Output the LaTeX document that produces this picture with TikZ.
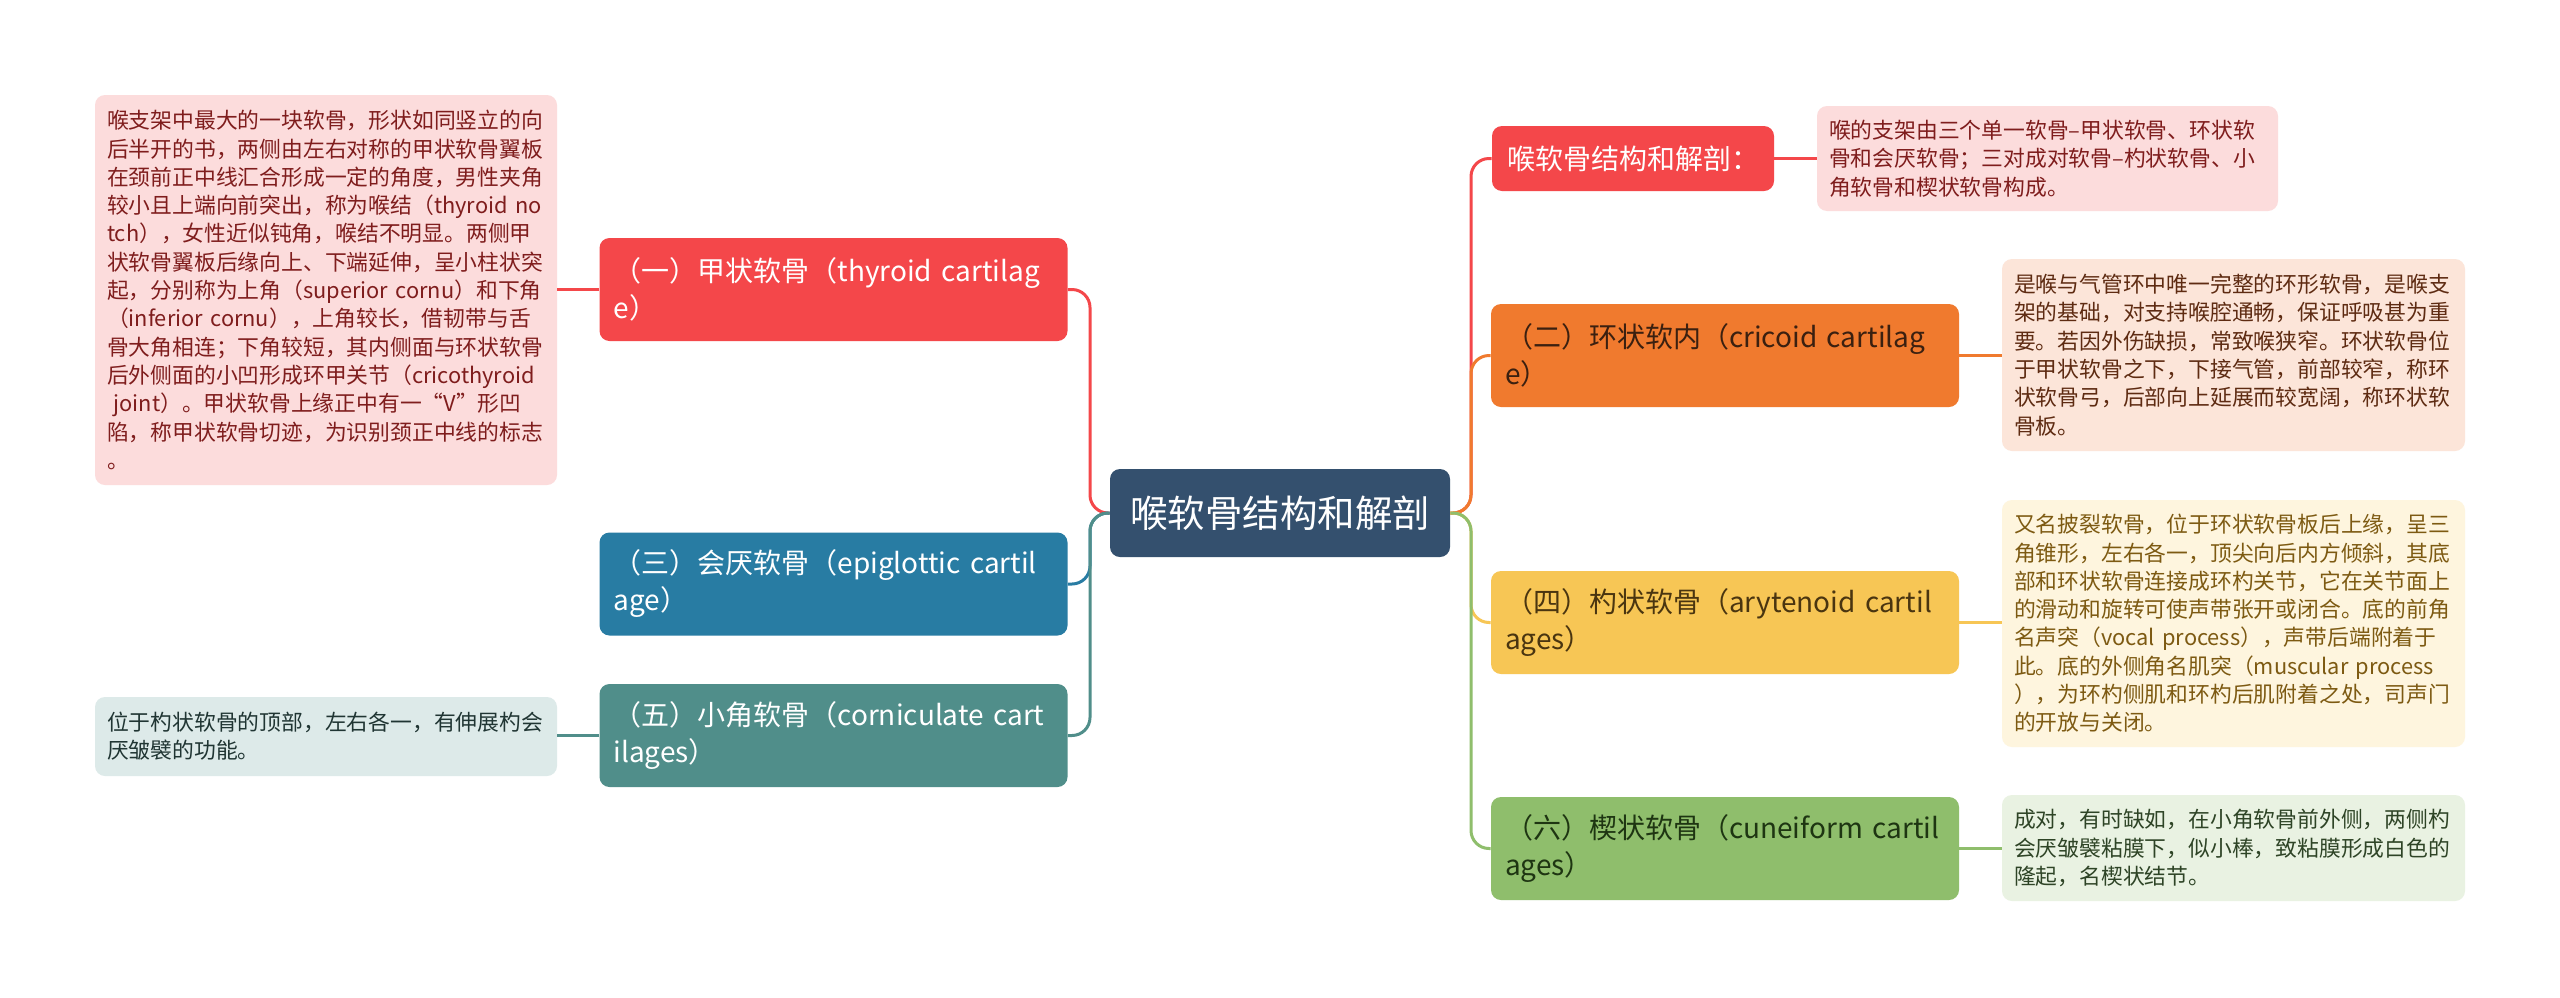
\documentclass[tikz,border=0pt]{standalone}
\usepackage{fontspec}
\setmainfont{Noto Sans CJK SC}
\definecolor{rootc}{HTML}{34506E}
\definecolor{redc}{HTML}{F4474A}
\definecolor{bluec}{HTML}{287CA3}
\definecolor{tealc}{HTML}{508E8A}
\definecolor{orangec}{HTML}{F07A2E}
\definecolor{yellowc}{HTML}{F7C655}
\definecolor{greenc}{HTML}{8FBE6C}
\definecolor{redl}{HTML}{FCDCDC}
\definecolor{orangel}{HTML}{FCE5D9}
\definecolor{yellowl}{HTML}{FEF5DE}
\definecolor{greenl}{HTML}{E9F2E2}
\definecolor{teall}{HTML}{DDEAE9}
\definecolor{redt}{HTML}{7F1D1D}
\definecolor{oranget}{HTML}{5E2B12}
\definecolor{yellowt}{HTML}{7D5A12}
\definecolor{greent}{HTML}{2E4426}
\definecolor{tealt}{HTML}{203533}
\definecolor{orangebt}{HTML}{3B2010}
\definecolor{yellowbt}{HTML}{4A3510}
\definecolor{greenbt}{HTML}{1E3512}
\tikzset{
  rootbox/.style={fill=rootc, text=white, rounded corners=5pt, inner sep=0pt,
    minimum width=170pt, minimum height=44pt, font=\fontsize{18.75}{22}\selectfont},
  branch/.style={rounded corners=5pt, inner xsep=7pt, inner ysep=0pt, align=left,
    text width=220pt, minimum height=51.5pt, font=\fontsize{14}{18.5}\selectfont},
  note/.style={rounded corners=5pt, inner xsep=6pt, inner ysep=0pt, align=left,
    font=\fontsize{10.9}{14.15}\selectfont},
  link/.style={line width=1.5pt, rounded corners=9pt},
}
\begin{document}
\begin{tikzpicture}[x=0.5pt,y=-0.5pt]
\useasboundingbox (0,0) rectangle (2560,997);
\fill[white] (0,0) rectangle (2560,997);

% root
\node[rootbox] (root) at (1280,513) {喉软骨结构和解剖};

% left branches
\node[branch, fill=redc, text=white] (b1) at (833.5,289.5) {（一）甲状软骨（thyroid cartilag\\e）};
\node[branch, fill=bluec, text=white] (b3) at (833.5,584) {（三）会厌软骨（epiglottic cartil\\age）};
\node[branch, fill=tealc, text=white] (b5) at (833.5,735.5) {（五）小角软骨（corniculate cart\\ilages）};

% right branches
\node[rounded corners=5pt, inner xsep=7.5pt, inner ysep=0pt, align=left, text width=126pt,
  minimum height=32.5pt, font=\fontsize{14}{18.5}\selectfont, fill=redc, text=white]
  (b0) at (1633,158.5) {喉软骨结构和解剖：};
\node[branch, fill=orangec, text=orangebt] (b2) at (1725,355.5) {（二）环状软内（cricoid cartilag\\e）};
\node[branch, fill=yellowc, text=yellowbt] (b4) at (1725,622.5) {（四）杓状软骨（arytenoid cartil\\ages）};
\node[branch, fill=greenc, text=greenbt] (b6) at (1725,848.5) {（六）楔状软骨（cuneiform cartil\\ages）};

% notes left
\node[note, fill=redl, text=redt, text width=219pt, minimum height=195pt] (t1) at (326,290) {%
喉支架中最大的一块软骨，形状如同竖立的向\\
后半开的书，两侧由左右对称的甲状软骨翼板\\
在颈前正中线汇合形成一定的角度，男性夹角\\
较小且上端向前突出，称为喉结（thyroid no\\
tch），女性近似钝角，喉结不明显。两侧甲\\
状软骨翼板后缘向上、下端延伸，呈小柱状突\\
起，分别称为上角（superior cornu）和下角\\
（inferior cornu），上角较长，借韧带与舌\\
骨大角相连；下角较短，其内侧面与环状软骨\\
后外侧面的小凹形成环甲关节（cricothyroid\\
\hspace*{0.3em}joint）。甲状软骨上缘正中有一“V”形凹\\
陷，称甲状软骨切迹，为识别颈正中线的标志\\
。};
\node[note, fill=teall, text=tealt, text width=219pt, minimum height=39.5pt] (t5) at (326,736.5) {%
位于杓状软骨的顶部，左右各一，有伸展杓会\\
厌皱襞的功能。};

% notes right
\node[note, fill=redl, text=redt, text width=218.5pt, minimum height=52.5pt] (t0) at (2047.5,158.5) {%
喉的支架由三个单一软骨–甲状软骨、环状软\\
骨和会厌软骨；三对成对软骨–杓状软骨、小\\
角软骨和楔状软骨构成。};
\node[note, fill=orangel, text=oranget, text width=219.5pt, minimum height=96pt] (t2) at (2233.5,355) {%
是喉与气管环中唯一完整的环形软骨，是喉支\\
架的基础，对支持喉腔通畅，保证呼吸甚为重\\
要。若因外伤缺损，常致喉狭窄。环状软骨位\\
于甲状软骨之下，下接气管，前部较窄，称环\\
状软骨弓，后部向上延展而较宽阔，称环状软\\
骨板。};
\node[note, fill=yellowl, text=yellowt, text width=219.5pt, minimum height=123.5pt] (t4) at (2233.5,623.5) {%
又名披裂软骨，位于环状软骨板后上缘，呈三\\
角锥形，左右各一，顶尖向后内方倾斜，其底\\
部和环状软骨连接成环杓关节，它在关节面上\\
的滑动和旋转可使声带张开或闭合。底的前角\\
名声突（vocal process），声带后端附着于\\
此。底的外侧角名肌突（muscular process\\
），为环杓侧肌和环杓后肌附着之处，司声门\\
的开放与关闭。};
\node[note, fill=greenl, text=greent, text width=219.5pt, minimum height=53pt] (t6) at (2233.5,848) {%
成对，有时缺如，在小角软骨前外侧，两侧杓\\
会厌皱襞粘膜下，似小棒，致粘膜形成白色的\\
隆起，名楔状结节。};

% trunk junctions
\coordinate (jl) at (1090,513);
\coordinate (jr) at (1471,513);

% root to left branches
\draw[link, redc] (root.west) -- (jl) -- (jl |- b1.east) -- (b1.east);
\draw[link, bluec] (root.west) -- (jl) -- (jl |- b3.east) -- (b3.east);
\draw[link, tealc] (root.west) -- (jl) -- (jl |- b5.east) -- (b5.east);

% root to right branches
\draw[link, redc] (root.east) -- (jr) -- (jr |- b0.west) -- (b0.west);
\draw[link, orangec] (root.east) -- (jr) -- (jr |- b2.west) -- (b2.west);
\draw[link, yellowc] (root.east) -- (jr) -- (jr |- b4.west) -- (b4.west);
\draw[link, greenc] (root.east) -- (jr) -- (jr |- b6.west) -- (b6.west);

% branches to notes
\draw[link, redc] (b1.west) -- (b1.west -| t1.east);
\draw[link, tealc] (b5.west) -- (b5.west -| t5.east);
\draw[link, redc] (b0.east) -- (b0.east -| t0.west);
\draw[link, orangec] (b2.east) -- (b2.east -| t2.west);
\draw[link, yellowc] (b4.east) -- (b4.east -| t4.west);
\draw[link, greenc] (b6.east) -- (b6.east -| t6.west);
\end{tikzpicture}
\end{document}
